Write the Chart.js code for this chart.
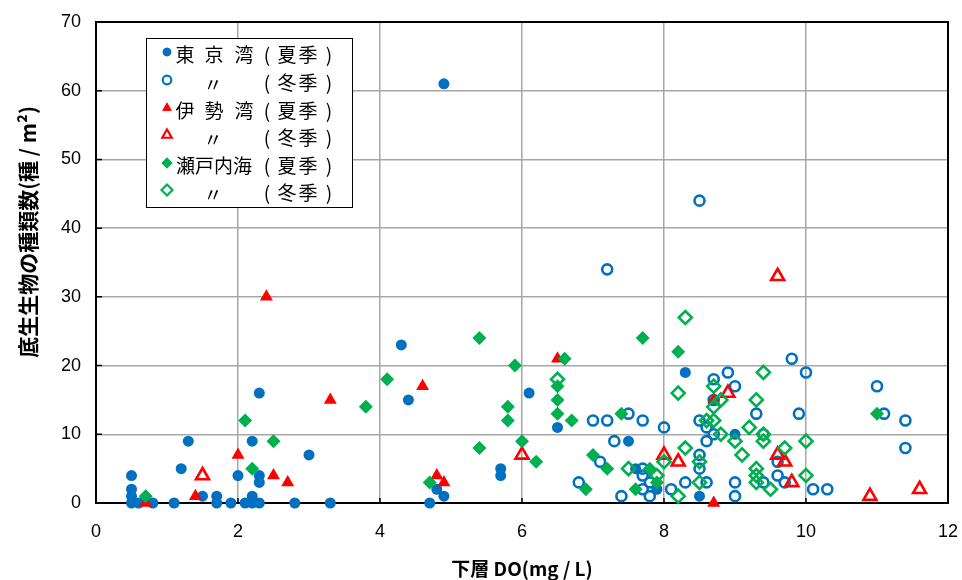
<!DOCTYPE html>
<html>
<head>
<meta charset="utf-8">
<script src="https://cdn.jsdelivr.net/npm/chart.js@4.4.1/dist/chart.umd.min.js"></script>
<style>
  html, body { margin: 0; padding: 0; background: #fff; overflow: hidden; }
  canvas { display: block; }
</style>
</head>
<body>
<canvas id="doChart" width="962" height="580"></canvas>
<script>
// 凡例の名称
const seriesNames = ["東 京 湾", "〃", "伊 勢 湾", "〃", "瀬戸内海", "〃"];
const seasonNames = ["夏季", "冬季", "夏季", "冬季", "夏季", "冬季"];
const yTitle = "底生生物の種類数(種 / m²)";
const xTitle = "下層 DO(mg / L)";

// 東京湾（夏季） [DO, 種類数]
const tokyoSummer = [
  [0.5, 0], [0.6, 0], [0.8, 0], [1.1, 0], [1.7, 0], [1.9, 0], [2.1, 0], [2.2, 0], [2.3, 0], [2.8, 0], [3.3, 0],
  [0.5, 1], [0.5, 2], [0.5, 4], [1.3, 9], [1.2, 5], [1.5, 1], [1.7, 1], [2.0, 4], [2.2, 9], [2.3, 16], [2.3, 4],
  [2.3, 3], [2.2, 1], [3.0, 7], [4.3, 23], [4.4, 15], [4.9, 61], [6.1, 16], [6.5, 11], [5.7, 5], [5.7, 4],
  [4.8, 2], [4.9, 1], [4.7, 0], [7.5, 9], [7.9, 2], [7.6, 5], [8.3, 19], [9.0, 10], [8.5, 1]
];
// 東京湾（冬季）
const tokyoWinter = [
  [7.2, 34], [8.5, 44], [7.0, 12], [7.2, 12], [7.5, 13], [7.7, 12], [8.0, 11], [7.3, 9], [7.1, 6], [6.8, 3],
  [7.4, 1], [7.7, 5], [7.7, 4], [7.8, 3], [7.7, 2], [7.8, 1], [8.1, 2], [9.8, 21], [10.0, 19], [8.9, 19],
  [8.7, 18], [9.0, 17], [11.0, 17], [9.3, 13], [9.9, 13], [11.1, 13], [11.4, 12], [11.4, 8], [8.5, 12],
  [8.6, 11], [8.7, 10], [8.6, 9], [9.4, 10], [8.5, 7], [8.5, 5], [8.3, 3], [8.6, 3], [9.0, 3], [9.0, 1],
  [9.6, 6], [9.6, 4], [9.7, 3], [9.4, 3], [10.1, 2], [10.3, 2], [8.7, 15]
];
// 伊勢湾（夏季）
const iseSummer = [
  [0.7, 0], [2.4, 30], [3.3, 15], [2.0, 7], [2.5, 4], [2.7, 3], [1.4, 1], [4.6, 17], [6.5, 21],
  [4.8, 4], [4.9, 3], [8.7, 0], [8.7, 15]
];
// 伊勢湾（冬季）
const iseWinter = [
  [1.5, 4], [6.0, 7], [9.6, 33], [8.9, 16], [8.0, 7], [8.2, 6], [9.6, 7], [9.7, 6], [9.8, 3], [10.9, 1], [11.6, 2]
];
// 瀬戸内海（夏季）
const setoSummer = [
  [0.7, 1], [2.1, 12], [2.5, 9], [2.2, 5], [3.8, 14], [4.1, 18], [5.4, 24], [5.9, 20], [5.8, 14], [5.8, 12],
  [5.4, 8], [6.0, 9], [6.2, 6], [4.7, 3], [6.5, 17], [6.5, 15], [6.5, 13], [6.6, 21], [6.7, 12], [7.7, 24],
  [7.0, 7], [7.2, 5], [6.9, 2], [7.4, 13], [7.8, 5], [7.6, 2], [7.9, 3], [8.2, 22], [11.0, 13]
];
// 瀬戸内海（冬季）
const setoWinter = [
  [6.5, 18], [7.5, 5], [7.9, 4], [8.0, 6], [8.3, 27], [8.2, 16], [9.4, 19], [8.7, 17], [9.3, 15], [8.8, 15],
  [8.7, 14], [8.6, 12], [8.7, 12], [9.2, 11], [8.8, 10], [9.0, 9], [9.4, 10], [9.4, 9], [10.0, 9], [9.7, 8],
  [8.3, 8], [9.1, 7], [8.5, 6], [9.3, 5], [9.3, 4], [9.3, 3], [9.5, 2], [10.0, 4], [8.5, 3], [8.2, 1]
];

const BLUE = "#0070C0";
const RED = "#FF0000";
const GREEN = "#00B050";

function toPoints(arr) {
  return arr.map((p) => ({ x: p[0], y: p[1] }));
}

function makeSet(idx, data, color, style, filled) {
  let r = style === "circle" ? 5.5 : style === "triangle" ? 7.5 : 7;
  if (!filled && style === "circle") r = 5;
  if (!filled && style === "rectRot") r = 6.5;
  return {
    label: seriesNames[idx] + "（" + seasonNames[idx] + "）",
    data: toPoints(data),
    pointStyle: style,
    pointRadius: r,
    pointHoverRadius: r,
    backgroundColor: filled ? color : "rgba(0,0,0,0)",
    borderColor: color,
    borderWidth: filled ? 0 : 2.6,
    order: 6 - idx,
    clip: false,
  };
}

const datasets = [
  makeSet(0, tokyoSummer, BLUE, "circle", true),
  makeSet(1, tokyoWinter, BLUE, "circle", false),
  makeSet(2, iseSummer, RED, "triangle", true),
  makeSet(3, iseWinter, RED, "triangle", false),
  makeSet(4, setoSummer, GREEN, "rectRot", true),
  makeSet(5, setoWinter, GREEN, "rectRot", false),
];

// 枠線、内向きの目盛り、縦軸タイトル
const framePlugin = {
  id: "frame",
  beforeDatasetsDraw(chart) {
    const { ctx, chartArea } = chart;
    const xs = chart.scales.x;
    const ys = chart.scales.y;
    ctx.save();
    ctx.strokeStyle = "#000";
    ctx.lineWidth = 2;
    ctx.strokeRect(chartArea.left, chartArea.top, chartArea.right - chartArea.left, chartArea.bottom - chartArea.top);
    ctx.lineWidth = 1.5;
    ctx.beginPath();
    xs.ticks.forEach((t) => {
      const px = xs.getPixelForValue(t.value);
      ctx.moveTo(px, chartArea.bottom);
      ctx.lineTo(px, chartArea.bottom - 5);
    });
    ys.ticks.forEach((t) => {
      const py = ys.getPixelForValue(t.value);
      ctx.moveTo(chartArea.left, py);
      ctx.lineTo(chartArea.left + 6, py);
    });
    ctx.stroke();

    ctx.translate(28, 232);
    ctx.rotate(-Math.PI / 2);
    ctx.font = 'bold 21px "Noto Sans CJK JP"';
    ctx.fillStyle = "#000";
    ctx.textAlign = "center";
    ctx.textBaseline = "middle";
    ctx.fillText(yTitle, 0, 0);
    ctx.restore();
  },
};

// 凡例（グラフ内の枠）
const legendPlugin = {
  id: "boxLegend",
  afterDatasetsDraw(chart) {
    const { ctx } = chart;
    const rows = [55, 83, 111, 138, 166, 193];
    const styles = chart.data.datasets;
    ctx.save();
    ctx.fillStyle = "#fff";
    ctx.fillRect(146, 38, 206, 169);
    ctx.strokeStyle = "#000";
    ctx.lineWidth = 1;
    ctx.strokeRect(146.5, 38.5, 206, 169);
    ctx.font = '19px "Noto Sans CJK JP"';
    ctx.textBaseline = "middle";
    ctx.fillStyle = "#000";
    rows.forEach((y, i) => {
      const ds = styles[i];
      const filled = ds.borderWidth === 0;
      ctx.fillStyle = ds.backgroundColor;
      ctx.strokeStyle = ds.borderColor;
      ctx.lineWidth = filled ? 0 : 2.2;
      let r = ds.pointStyle === "circle" ? 4.3 : 5.5;
      Chart.helpers.drawPoint(ctx, { pointStyle: ds.pointStyle, radius: r, borderWidth: filled ? 0 : 2.2, rotation: 0 }, 167, y - 3);
      if (filled) ctx.fill();
      ctx.fillStyle = "#000";
      ctx.textAlign = "center";
      const name = seriesNames[i];
      if (name === "〃") {
        ctx.fillText("〃", 213, y + 2);
      } else if (name === "瀬戸内海") {
        ctx.textAlign = "left";
        ctx.fillText(name, 176, y);
        ctx.textAlign = "center";
      } else {
        const chars = name.split(" ");
        ctx.fillText(chars[0], 185, y);
        ctx.fillText(chars[1], 214, y);
        ctx.fillText(chars[2], 244, y);
      }
      ctx.fillText("(", 267, y);
      ctx.fillText(seasonNames[i][0], 287, y);
      ctx.fillText(seasonNames[i][1], 308, y);
      ctx.fillText(")", 329, y);
    });
    ctx.restore();
  },
};

const ctx = document.getElementById("doChart").getContext("2d");
new Chart(ctx, {
  type: "scatter",
  data: { datasets: datasets },
  options: {
    responsive: false,
    animation: false,
    devicePixelRatio: 1,
    layout: { autoPadding: false, padding: { top: 22, right: 14, bottom: 0, left: 0 } },
    plugins: {
      legend: { display: false },
      tooltip: { enabled: false },
    },
    scales: {
      x: {
        type: "linear",
        min: 0,
        max: 12,
        ticks: {
          stepSize: 2,
          color: "#000",
          padding: 18,
          font: { family: "Liberation Sans", size: 18 },
        },
        grid: { color: "#a6a6a6", lineWidth: 1.5, drawTicks: false },
        border: { display: false },
        title: {
          display: true,
          text: xTitle,
          color: "#000",
          font: { family: "Noto Sans CJK JP", size: 19, weight: "bold" },
          padding: { top: 0, bottom: 0 },
        },
        afterFit(scale) {
          scale.height = 77;
          scale.paddingLeft = 0;
          scale.paddingRight = 0;
        },
      },
      y: {
        type: "linear",
        min: 0,
        max: 70,
        ticks: {
          stepSize: 10,
          color: "#000",
          padding: 15,
          font: { family: "Liberation Sans", size: 18 },
        },
        grid: { color: "#a6a6a6", lineWidth: 1.5, drawTicks: false },
        border: { display: false },
        title: { display: false },
        afterFit(scale) {
          scale.width = 96;
          scale.paddingTop = 0;
          scale.paddingBottom = 0;
        },
      },
    },
  },
  plugins: [framePlugin, legendPlugin],
});
</script>
</body>
</html>
